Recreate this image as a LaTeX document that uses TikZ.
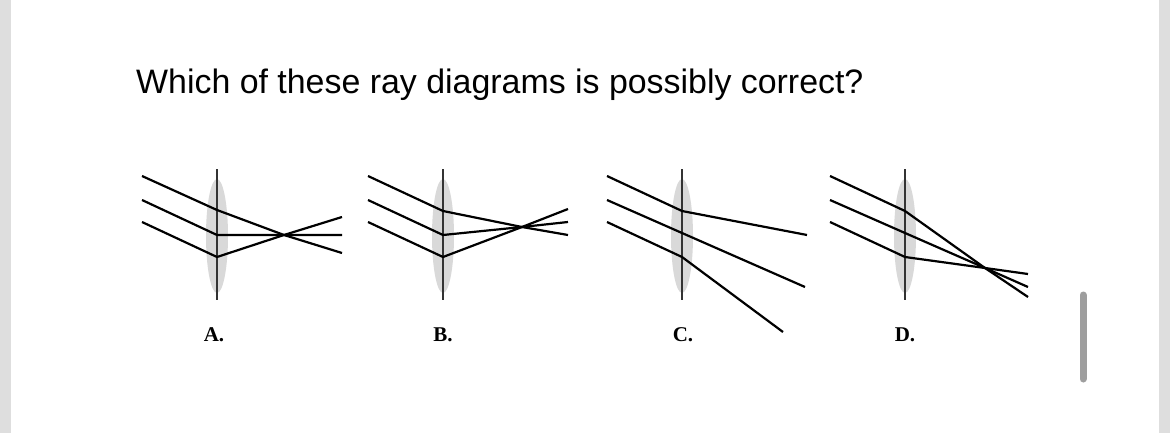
\documentclass[tikz,border=0pt]{standalone}
\usepackage{fontspec}
\setmainfont{Liberation Serif}
\newfontfamily\titlefont{Liberation Sans}
\begin{document}
\begin{tikzpicture}[x=1pt,y=-1pt,
  ray/.style={line width=2.2pt,black},
  axis/.style={line width=1.5pt,black!80},
  lensfill/.style={fill=black!15,draw=none},
  lbl/.style={font=\bfseries\fontsize{21}{21}\selectfont,anchor=base},
  strip/.style={fill=black!13,draw=none}]
\useasboundingbox (0,0) rectangle (1170,433);
\fill[white] (0,0) rectangle (1170,433);
\fill[strip] (0,0) rectangle (11,433);
\fill[strip] (1159,0) rectangle (1170,433);
\draw[line width=7pt,black!38,line cap=round] (1083,295) -- (1083,379);
\node[anchor=base west,inner sep=0,font=\titlefont\fontsize{33.9}{35}\selectfont] (title) at (136,94) {Which of these ray diagrams is possibly correct?};
% lenses
\foreach \n/\x in {A/217,B/443,C/682,D/905}{
  \fill[lensfill] (\x,236) ellipse (11 and 57);
  \coordinate (\n top) at (\x,169);
  \coordinate (\n bot) at (\x,300);
  \draw[axis] (\n top) -- (\n bot);
}
% A
\coordinate (a1) at (142,176); \coordinate (a2) at (142,200); \coordinate (a3) at (142,222);
\coordinate (ah1) at (217,210); \coordinate (ah2) at (217,235); \coordinate (ah3) at (217,257);
\coordinate (af) at (284,235);
\coordinate (ae1) at (342,253); \coordinate (ae2) at (342,235); \coordinate (ae3) at (342,217);
\draw[ray] (a1) -- (ah1) -- (af) -- (ae1);
\draw[ray] (a2) -- (ah2) -- (af) -- (ae2);
\draw[ray] (a3) -- (ah3) -- (af) -- (ae3);
\node[lbl] (la) at (214,341) {A.};
% B
\coordinate (b1) at (368,176); \coordinate (b2) at (368,200); \coordinate (b3) at (368,222);
\coordinate (bh1) at (443,211); \coordinate (bh2) at (443,235); \coordinate (bh3) at (443,257);
\coordinate (bf) at (522,227);
\coordinate (be1) at (568,235); \coordinate (be2) at (568,222); \coordinate (be3) at (568,209);
\draw[ray] (b1) -- (bh1) -- (bf) -- (be1);
\draw[ray] (b2) -- (bh2) -- (bf) -- (be2);
\draw[ray] (b3) -- (bh3) -- (bf) -- (be3);
\node[lbl] (lb) at (443,341) {B.};
% C
\coordinate (c1) at (607,176); \coordinate (c2) at (607,200); \coordinate (c3) at (607,222);
\coordinate (ch1) at (682,211); \coordinate (ch2) at (682,233); \coordinate (ch3) at (682,257);
\coordinate (ce1) at (807,235); \coordinate (ce2) at (805,287); \coordinate (ce3) at (783,332);
\draw[ray] (c1) -- (ch1) -- (ce1);
\draw[ray] (c2) -- (ch2) -- (ce2);
\draw[ray] (c3) -- (ch3) -- (ce3);
\node[lbl] (lc) at (683,341) {C.};
% D
\coordinate (d1) at (830,176); \coordinate (d2) at (830,200); \coordinate (d3) at (830,222);
\coordinate (dh1) at (905,211); \coordinate (dh2) at (905,233); \coordinate (dh3) at (905,257);
\coordinate (df) at (985,268);
\coordinate (de1) at (1028,297); \coordinate (de2) at (1028,287); \coordinate (de3) at (1028,274);
\draw[ray] (d1) -- (dh1) -- (df) -- (de1);
\draw[ray] (d2) -- (dh2) -- (df) -- (de2);
\draw[ray] (d3) -- (dh3) -- (df) -- (de3);
\node[lbl] (ld) at (905,341) {D.};
\end{tikzpicture}
\end{document}
